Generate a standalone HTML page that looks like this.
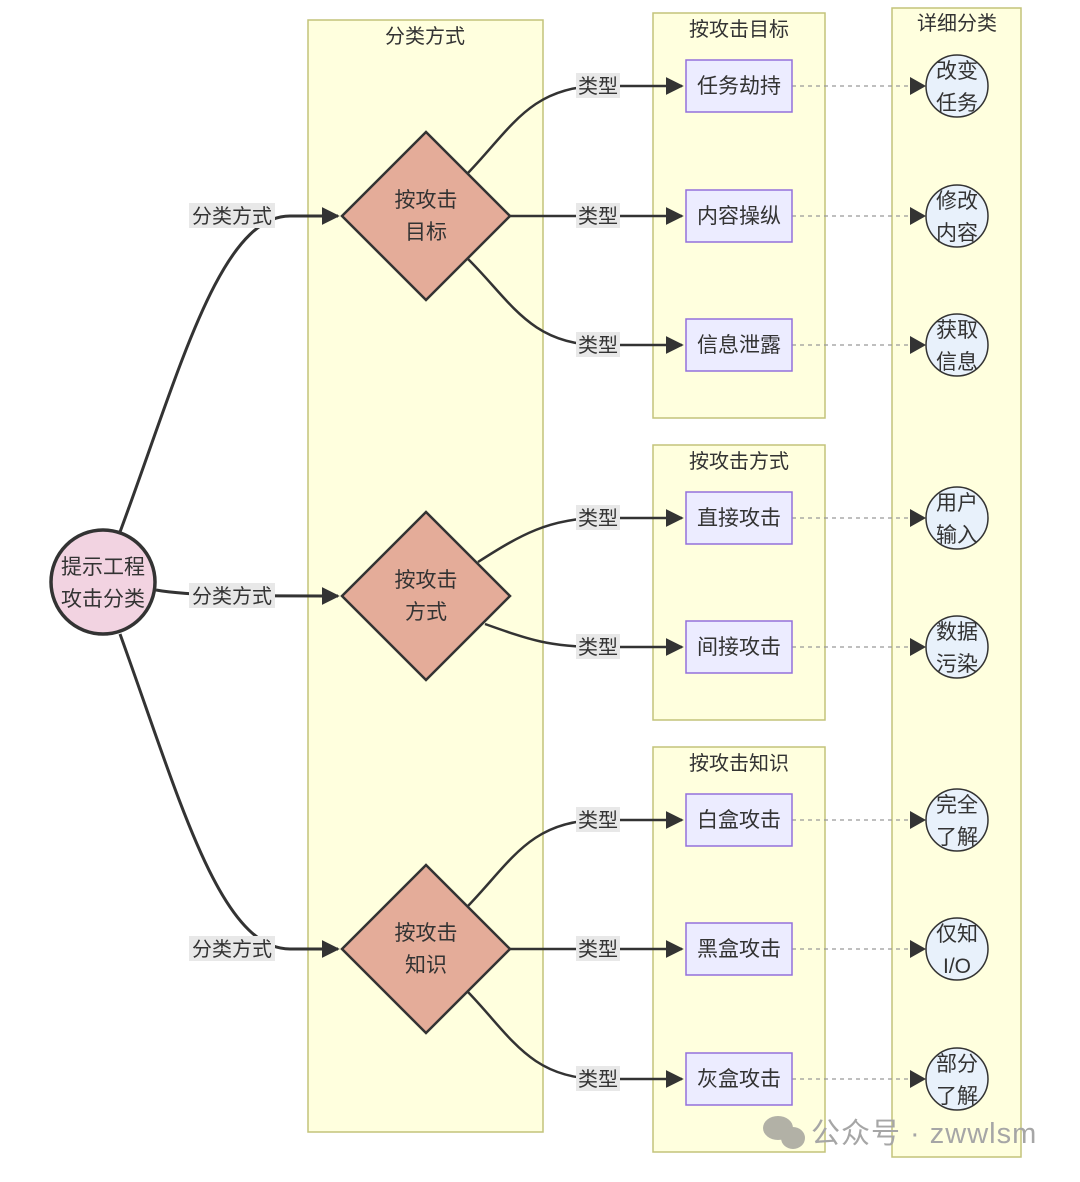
<!DOCTYPE html>
<html><head><meta charset="utf-8"><style>
body{margin:0;background:#fff;}
svg text{font-family:"Liberation Sans","Noto Sans CJK SC",sans-serif;fill:#333;}
</style></head><body>
<svg width="1080" height="1177" viewBox="0 0 1080 1177" xmlns="http://www.w3.org/2000/svg">
<defs>
<marker id="b" viewBox="0 0 10 10" refX="9" refY="5" markerWidth="18" markerHeight="18" markerUnits="userSpaceOnUse" orient="auto"><path d="M0,0L10,5L0,10z" fill="#333"/></marker>
</defs>
<g fill="#ffffde" stroke="#c3c37a" stroke-width="1.5">
<rect x="308" y="20" width="235" height="1112"/>
<rect x="653" y="13" width="172" height="405"/>
<rect x="653" y="445" width="172" height="275"/>
<rect x="653" y="747" width="172" height="405"/>
<rect x="892" y="8" width="129" height="1149"/>
</g>
<g font-size="20" text-anchor="middle">
<text x="425" y="43">分类方式</text>
<text x="739" y="36">按攻击目标</text>
<text x="739" y="468">按攻击方式</text>
<text x="739" y="770">按攻击知识</text>
<text x="957" y="30">详细分类</text>
</g>
<g fill="none" stroke="#333" stroke-width="3">
<path d="M120,532 C180,370 220,216 290,216 L338,216" marker-end="url(#b)"/>
<path d="M156,590 C190,596 250,596 338,596" marker-end="url(#b)"/>
<path d="M120,634 C180,800 220,949 290,949 L338,949" marker-end="url(#b)"/>
</g>
<g fill="none" stroke="#333" stroke-width="2.5">
<path d="M467,174 C510,130 530,86 600,86 L682,86" marker-end="url(#b)"/>
<path d="M510,216 L682,216" marker-end="url(#b)"/>
<path d="M467,258 C510,300 530,345 600,345 L682,345" marker-end="url(#b)"/>
<path d="M478,562 C520,535 550,518 600,518 L682,518" marker-end="url(#b)"/>
<path d="M485,624 C530,640 550,647 600,647 L682,647" marker-end="url(#b)"/>
<path d="M467,907 C510,863 530,820 600,820 L682,820" marker-end="url(#b)"/>
<path d="M510,949 L682,949" marker-end="url(#b)"/>
<path d="M467,991 C510,1035 530,1079 600,1079 L682,1079" marker-end="url(#b)"/>
</g>
<g stroke="#999" stroke-width="1.3" stroke-dasharray="4,4">
<line x1="792" y1="86" x2="912" y2="86"/><line x1="792" y1="216" x2="912" y2="216"/>
<line x1="792" y1="345" x2="912" y2="345"/><line x1="792" y1="518" x2="912" y2="518"/>
<line x1="792" y1="647" x2="912" y2="647"/><line x1="792" y1="820" x2="912" y2="820"/>
<line x1="792" y1="949" x2="912" y2="949"/><line x1="792" y1="1079" x2="912" y2="1079"/>
</g>
<g fill="#333">
<path d="M910,77L926,86L910,95z"/><path d="M910,207L926,216L910,225z"/><path d="M910,336L926,345L910,354z"/><path d="M910,509L926,518L910,527z"/>
<path d="M910,638L926,647L910,656z"/><path d="M910,811L926,820L910,829z"/><path d="M910,940L926,949L910,958z"/><path d="M910,1070L926,1079L910,1088z"/>
</g>
<g font-size="20" text-anchor="middle">
<g fill="#e8e8e8"><rect x="189" y="203" width="86" height="25"/><rect x="189" y="583" width="86" height="25"/><rect x="189" y="936" width="86" height="25"/></g>
<text x="232" y="223">分类方式</text><text x="232" y="603">分类方式</text><text x="232" y="956">分类方式</text>
<g fill="#e8e8e8">
<rect x="576" y="73" width="44" height="25"/><rect x="576" y="203" width="44" height="25"/><rect x="576" y="332" width="44" height="25"/><rect x="576" y="505" width="44" height="25"/>
<rect x="576" y="634" width="44" height="25"/><rect x="576" y="807" width="44" height="25"/><rect x="576" y="936" width="44" height="25"/><rect x="576" y="1066" width="44" height="25"/>
</g>
<text x="598" y="93">类型</text><text x="598" y="223">类型</text><text x="598" y="352">类型</text><text x="598" y="525">类型</text>
<text x="598" y="654">类型</text><text x="598" y="827">类型</text><text x="598" y="956">类型</text><text x="598" y="1086">类型</text>
</g>
<circle cx="103" cy="582" r="52" fill="#f2d3e1" stroke="#333" stroke-width="3.5"/>
<g font-size="21" text-anchor="middle"><text x="103" y="574">提示工程</text><text x="103" y="606">攻击分类</text></g>
<g fill="#e4ac99" stroke="#333" stroke-width="2.5">
<path d="M426,132L510,216L426,300L342,216z"/>
<path d="M426,512L510,596L426,680L342,596z"/>
<path d="M426,865L510,949L426,1033L342,949z"/>
</g>
<g font-size="21" text-anchor="middle">
<text x="426" y="207">按攻击</text><text x="426" y="239">目标</text>
<text x="426" y="587">按攻击</text><text x="426" y="619">方式</text>
<text x="426" y="940">按攻击</text><text x="426" y="972">知识</text>
</g>
<g fill="#ececff" stroke="#9370db" stroke-width="1.5">
<rect x="686" y="60" width="106" height="52"/><rect x="686" y="190" width="106" height="52"/><rect x="686" y="319" width="106" height="52"/>
<rect x="686" y="492" width="106" height="52"/><rect x="686" y="621" width="106" height="52"/>
<rect x="686" y="794" width="106" height="52"/><rect x="686" y="923" width="106" height="52"/><rect x="686" y="1053" width="106" height="52"/>
</g>
<g font-size="21" text-anchor="middle">
<text x="739" y="93">任务劫持</text><text x="739" y="223">内容操纵</text><text x="739" y="352">信息泄露</text>
<text x="739" y="525">直接攻击</text><text x="739" y="654">间接攻击</text>
<text x="739" y="827">白盒攻击</text><text x="739" y="956">黑盒攻击</text><text x="739" y="1086">灰盒攻击</text>
</g>
<g fill="#e8f1fb" stroke="#333" stroke-width="1.5">
<circle cx="957" cy="86" r="31"/><circle cx="957" cy="216" r="31"/><circle cx="957" cy="345" r="31"/><circle cx="957" cy="518" r="31"/>
<circle cx="957" cy="647" r="31"/><circle cx="957" cy="820" r="31"/><circle cx="957" cy="949" r="31"/><circle cx="957" cy="1079" r="31"/>
</g>
<g font-size="21" text-anchor="middle">
<text x="957" y="78">改变</text><text x="957" y="110">任务</text>
<text x="957" y="208">修改</text><text x="957" y="240">内容</text>
<text x="957" y="337">获取</text><text x="957" y="369">信息</text>
<text x="957" y="510">用户</text><text x="957" y="542">输入</text>
<text x="957" y="639">数据</text><text x="957" y="671">污染</text>
<text x="957" y="812">完全</text><text x="957" y="844">了解</text>
<text x="957" y="941">仅知</text><text x="957" y="973">I/O</text>
<text x="957" y="1071">部分</text><text x="957" y="1103">了解</text>
</g>
<g fill="#aaa9a0" opacity="0.9">
<ellipse cx="778" cy="1128" rx="15" ry="12"/><ellipse cx="793" cy="1138" rx="12" ry="11"/>
</g>
<text x="811" y="1143" font-size="29" letter-spacing="1" style="fill:#a6a6a6">公众号 · zwwlsm</text>
</svg>
</body></html>
